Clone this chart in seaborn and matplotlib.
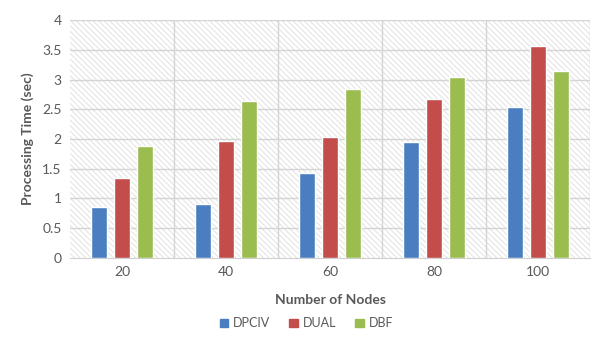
import pandas as pd
import matplotlib.pyplot as plt
import matplotlib.patches as mpatches
import seaborn as sns

# ==========================================
# DATA
# ==========================================

nodes = ["20", "40", "60", "80", "100"]
methods = ["DPCIV", "DUAL", "DBF"]
dpciv = [0.86, 0.91, 1.43, 1.95, 2.54]
dual = [1.34, 1.97, 2.03, 2.67, 3.56]
dbf = [1.88, 2.64, 2.84, 3.04, 3.14]
colors = ["#4A7EC1", "#C24D4B", "#9BBD4F"]

df = pd.DataFrame({
    "Nodes": nodes * 3,
    "Method": [m for m in methods for _ in nodes],
    "Time": dpciv + dual + dbf
})

# ==========================================
# PLOT
# ==========================================

sns.set_style("white")
plt.rcParams["font.family"] = ["Lato", "DejaVu Sans"]
plt.rcParams["hatch.linewidth"] = 0.6

fig = plt.figure(figsize=(5.92, 3.51), dpi=100)
ax = fig.add_axes([0.118, 0.265, 0.879, 0.678])

# hatched background
bg = mpatches.Rectangle((0, 0), 1, 1, transform=ax.transAxes,
                        facecolor="white", edgecolor="#DDDDDD",
                        hatch="\\\\\\\\\\\\", linewidth=0, zorder=0)
ax.add_patch(bg)

sns.barplot(
    data=df, x="Nodes", y="Time", hue="Method",
    palette=colors, width=0.66, gap=0.3, ax=ax,
    saturation=1, zorder=3
)

ax.set_ylim(0, 4)
ax.set_yticks([0, 0.5, 1, 1.5, 2, 2.5, 3, 3.5, 4])
ax.set_yticklabels(["0", "0.5", "1", "1.5", "2", "2.5", "3", "3.5", "4"])
ax.set_xlim(-0.5, 4.5)

# grid lines: horizontal at ticks, vertical between groups
for y in [0.5, 1, 1.5, 2, 2.5, 3, 3.5, 4]:
    ax.axhline(y, color="#D4D4D4", linewidth=1, zorder=1)
for x in [0.5, 1.5, 2.5, 3.5, 4.5]:
    ax.axvline(x, color="#D4D4D4", linewidth=1, zorder=1)

for s in ["top", "right", "left"]:
    ax.spines[s].set_visible(False)
ax.spines["bottom"].set_color("#D0D0D0")

ax.tick_params(axis="both", length=0, labelsize=10, colors="#595959", pad=6)
ax.set_xlabel("Number of Nodes", fontsize=10, fontweight="bold",
              color="#595959", labelpad=11)
ax.set_ylabel("Processing Time (sec)", fontsize=10, fontweight="bold",
              color="#595959", labelpad=6)

handles = [mpatches.Patch(color=c) for c in colors]
leg = ax.legend(handles, methods, loc="center", bbox_to_anchor=(0.455, -0.275),
                ncol=3, frameon=False, fontsize=9, handlelength=0.7,
                handleheight=0.7, handletextpad=0.4, columnspacing=1.5)
for t in leg.get_texts():
    t.set_color("#595959")

plt.savefig("out.png")
plt.close()
